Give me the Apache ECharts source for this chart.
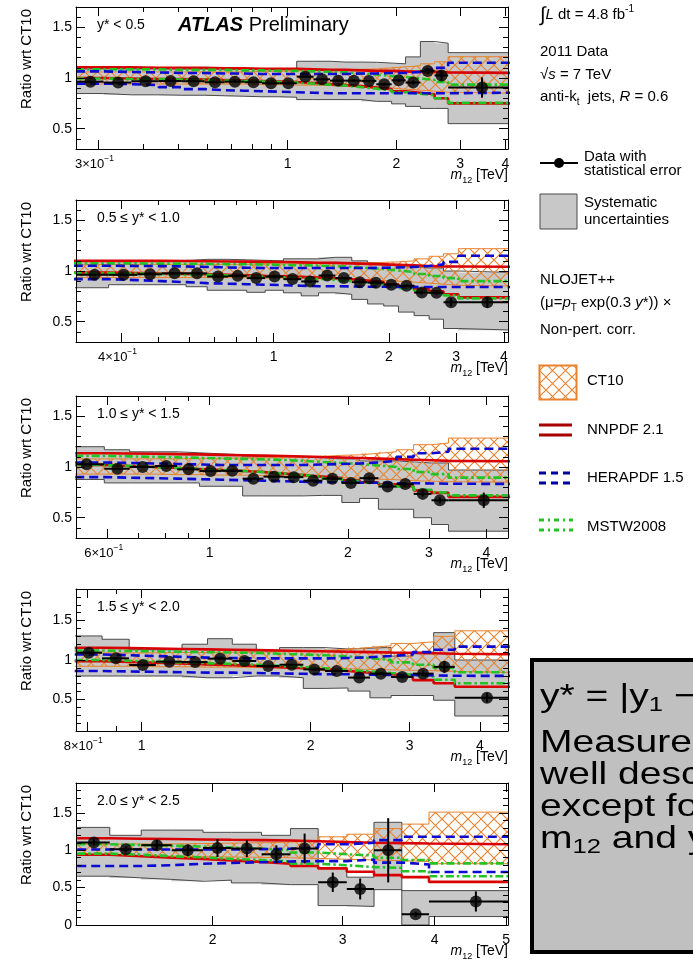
<!DOCTYPE html>
<html><head><meta charset="utf-8">
<script src="https://cdn.jsdelivr.net/npm/echarts@6.0.0/dist/echarts.min.js"></script>
<style>html,body{margin:0;padding:0;background:#fff}#c{width:693px;height:961px}</style>
</head><body><div id="c"></div>
<script>
// ---------------- DATA ----------------
// Panel 1: y* < 0.5
const p1Edges=[0.26,0.31,0.37,0.44,0.51,0.59,0.67,0.76,0.85,0.95,1.06,1.18,1.31,1.45,1.60,1.76,1.94,2.12,2.33,2.55,2.78,4.27];
const p1X=[0.285,0.34,0.405,0.475,0.55,0.63,0.715,0.805,0.9,1.005,1.12,1.245,1.38,1.525,1.68,1.85,2.03,2.225,2.44,2.665,3.45];
const p1Y=[0.964,0.955,0.968,0.970,0.968,0.958,0.964,0.958,0.948,0.948,1.013,0.987,0.974,0.974,0.970,0.938,0.977,0.955,1.070,1.025,0.906];
const p1Err=[0.010,0.008,0.008,0.008,0.008,0.008,0.008,0.008,0.008,0.010,0.010,0.010,0.010,0.012,0.012,0.015,0.015,0.020,0.030,0.050,0.100];
const p1SysLo=[0.847,0.834,0.834,0.830,0.830,0.825,0.820,0.815,0.815,0.810,0.787,0.787,0.787,0.787,0.770,0.770,0.745,0.720,0.700,0.700,0.550];
const p1SysHi=[1.090,1.090,1.090,1.090,1.090,1.090,1.090,1.090,1.090,1.090,1.165,1.165,1.157,1.157,1.155,1.147,1.140,1.208,1.360,1.343,1.250];
const p1CtHi=[1.060,1.060,1.060,1.060,1.060,1.060,1.060,1.065,1.065,1.070,1.070,1.075,1.080,1.085,1.090,1.100,1.110,1.120,1.140,1.160,1.210];
const p1CtLo=[0.940,0.940,0.940,0.940,0.940,0.940,0.940,0.935,0.935,0.930,0.930,0.925,0.920,0.915,0.910,0.900,0.890,0.880,0.870,0.860,0.850];
const p1NnHi=[1.105,1.105,1.100,1.100,1.100,1.095,1.095,1.090,1.090,1.090,1.085,1.080,1.080,1.075,1.070,1.070,1.065,1.060,1.060,1.055,1.050];
const p1NnLo=[1.000,0.995,0.990,0.990,0.985,0.980,0.975,0.970,0.965,0.960,0.950,0.940,0.930,0.920,0.905,0.890,0.870,0.855,0.840,0.800,0.750];
const p1HeHi=[1.065,1.060,1.055,1.050,1.050,1.045,1.045,1.040,1.040,1.040,1.040,1.040,1.040,1.045,1.045,1.050,1.050,1.060,1.080,1.100,1.150];
const p1HeLo=[0.945,0.940,0.930,0.910,0.890,0.880,0.875,0.870,0.865,0.860,0.855,0.850,0.850,0.850,0.850,0.850,0.850,0.850,0.850,0.850,0.855];
const p1MsHi=[1.085,1.085,1.085,1.080,1.080,1.080,1.075,1.075,1.070,1.070,1.065,1.060,1.055,1.045,1.035,1.020,1.010,0.995,0.980,0.960,0.935];
const p1MsLo=[0.995,0.990,0.990,0.985,0.980,0.975,0.970,0.965,0.960,0.955,0.945,0.935,0.925,0.910,0.895,0.880,0.860,0.845,0.830,0.800,0.755];

// Panel 2: 0.5 <= y* < 1.0
const p2Edges=[0.30,0.37,0.44,0.51,0.59,0.67,0.76,0.85,0.95,1.06,1.18,1.31,1.45,1.60,1.76,1.94,2.12,2.33,2.55,2.78,3.04,4.27];
const p2X=[0.34,0.405,0.475,0.55,0.63,0.715,0.805,0.9,1.005,1.12,1.245,1.38,1.525,1.68,1.85,2.03,2.225,2.44,2.665,2.91,3.62];
const p2Y=[0.962,0.962,0.968,0.977,0.977,0.945,0.952,0.930,0.945,0.920,0.897,0.955,0.930,0.890,0.885,0.865,0.855,0.787,0.785,0.692,0.692];
const p2Err=[0.008,0.007,0.007,0.007,0.007,0.007,0.007,0.007,0.008,0.008,0.009,0.010,0.010,0.012,0.012,0.014,0.015,0.018,0.022,0.040,0.055];
const p2SysLo=[0.835,0.865,0.865,0.865,0.845,0.810,0.810,0.790,0.810,0.785,0.755,0.785,0.770,0.720,0.675,0.655,0.595,0.560,0.525,0.433,0.417];
const p2SysHi=[1.100,1.100,1.100,1.100,1.115,1.115,1.110,1.105,1.100,1.120,1.120,1.135,1.135,1.100,1.080,1.060,1.040,1.030,1.030,1.000,0.985];
const p2CtHi=[1.065,1.065,1.065,1.065,1.065,1.065,1.065,1.070,1.070,1.070,1.075,1.075,1.080,1.080,1.085,1.090,1.100,1.120,1.145,1.170,1.220];
const p2CtLo=[0.935,0.935,0.935,0.935,0.935,0.935,0.935,0.930,0.930,0.930,0.925,0.920,0.915,0.910,0.905,0.900,0.890,0.880,0.870,0.860,0.850];
const p2NnHi=[1.100,1.100,1.100,1.098,1.096,1.094,1.092,1.090,1.088,1.085,1.082,1.080,1.075,1.070,1.065,1.060,1.055,1.050,1.045,1.045,1.042];
const p2NnLo=[0.985,0.980,0.975,0.972,0.968,0.963,0.958,0.952,0.948,0.942,0.935,0.928,0.918,0.905,0.890,0.870,0.850,0.820,0.800,0.770,0.740];
const p2HeHi=[1.052,1.050,1.048,1.045,1.040,1.035,1.032,1.030,1.030,1.030,1.030,1.030,1.030,1.030,1.032,1.035,1.040,1.050,1.065,1.090,1.150];
const p2HeLo=[0.920,0.910,0.900,0.890,0.880,0.875,0.870,0.865,0.860,0.855,0.850,0.850,0.848,0.845,0.845,0.843,0.843,0.842,0.842,0.842,0.842];
const p2MsHi=[1.075,1.075,1.073,1.072,1.070,1.068,1.066,1.064,1.060,1.057,1.053,1.048,1.040,1.030,1.020,1.005,0.990,0.970,0.950,0.930,0.900];
const p2MsLo=[0.980,0.975,0.970,0.966,0.962,0.956,0.950,0.944,0.938,0.930,0.922,0.912,0.900,0.886,0.870,0.850,0.830,0.805,0.785,0.760,0.730];

// Panel 3: 1.0 <= y* < 1.5
const p3Edges=[0.51,0.59,0.67,0.76,0.85,0.95,1.06,1.18,1.31,1.45,1.60,1.76,1.94,2.12,2.33,2.55,2.78,3.04,3.31,4.64];
const p3X=[0.54,0.63,0.715,0.805,0.9,1.005,1.12,1.245,1.38,1.525,1.68,1.85,2.03,2.225,2.44,2.665,2.91,3.17,3.95];
const p3Y=[1.027,0.983,1.000,1.010,0.977,0.960,0.962,0.885,0.905,0.900,0.865,0.885,0.843,0.890,0.807,0.832,0.735,0.672,0.672];
const p3Err=[0.010,0.008,0.008,0.008,0.008,0.008,0.008,0.008,0.009,0.010,0.010,0.012,0.013,0.015,0.017,0.020,0.025,0.030,0.075];
const p3SysLo=[0.877,0.843,0.843,0.843,0.843,0.810,0.810,0.715,0.715,0.715,0.720,0.720,0.650,0.690,0.583,0.583,0.500,0.433,0.367];
const p3SysHi=[1.200,1.170,1.150,1.150,1.140,1.130,1.120,1.100,1.100,1.100,1.090,1.080,1.080,1.060,1.060,1.050,1.040,1.040,0.970];
const p3CtHi=[1.080,1.080,1.080,1.080,1.085,1.085,1.090,1.090,1.095,1.100,1.105,1.115,1.120,1.135,1.150,1.170,1.220,1.235,1.285];
const p3CtLo=[0.930,0.930,0.930,0.925,0.925,0.920,0.920,0.915,0.910,0.905,0.900,0.895,0.890,0.880,0.875,0.865,0.860,0.855,0.850];
const p3NnHi=[1.135,1.133,1.130,1.127,1.124,1.120,1.116,1.112,1.108,1.103,1.098,1.093,1.088,1.083,1.078,1.072,1.066,1.060,1.057];
const p3NnLo=[1.020,1.010,1.000,0.990,0.980,0.970,0.960,0.950,0.935,0.920,0.905,0.890,0.870,0.850,0.830,0.810,0.770,0.745,0.705];
const p3HeHi=[1.045,1.040,1.035,1.030,1.025,1.020,1.020,1.020,1.020,1.020,1.025,1.030,1.035,1.045,1.060,1.100,1.135,1.150,1.180];
const p3HeLo=[0.900,0.895,0.890,0.885,0.880,0.875,0.870,0.865,0.860,0.855,0.850,0.850,0.845,0.845,0.840,0.840,0.838,0.835,0.833];
const p3MsHi=[1.110,1.105,1.100,1.095,1.090,1.085,1.080,1.075,1.070,1.060,1.050,1.040,1.030,1.015,1.000,0.980,0.950,0.930,0.895];
const p3MsLo=[1.020,1.010,1.000,0.990,0.980,0.970,0.960,0.950,0.935,0.920,0.905,0.885,0.865,0.845,0.825,0.805,0.775,0.750,0.720];

// Panel 4: 1.5 <= y* < 2.0
const p4Edges=[0.76,0.85,0.95,1.06,1.18,1.31,1.45,1.60,1.76,1.94,2.12,2.33,2.55,2.78,3.04,3.31,3.61,4.64];
const p4X=[0.805,0.9,1.005,1.12,1.245,1.38,1.525,1.68,1.85,2.03,2.225,2.44,2.665,2.91,3.17,3.46,4.12];
const p4Y=[1.093,1.021,0.936,0.979,0.975,1.017,0.987,0.924,0.940,0.881,0.860,0.777,0.827,0.785,0.827,0.913,0.522];
const p4Err=[0.015,0.010,0.008,0.008,0.008,0.008,0.009,0.010,0.011,0.012,0.014,0.016,0.020,0.022,0.030,0.075,0.060];
const p4SysLo=[0.797,0.797,0.797,0.797,0.775,0.775,0.797,0.797,0.775,0.640,0.645,0.606,0.521,0.550,0.550,0.490,0.290];
const p4SysHi=[1.305,1.263,1.130,1.130,1.200,1.270,1.200,1.120,1.157,1.157,1.140,1.150,1.160,1.050,1.100,1.347,1.000];
const p4CtHi=[1.090,1.090,1.090,1.095,1.095,1.100,1.100,1.105,1.110,1.120,1.135,1.160,1.180,1.210,1.230,1.300,1.370];
const p4CtLo=[0.920,0.920,0.915,0.915,0.910,0.910,0.905,0.900,0.900,0.895,0.890,0.880,0.875,0.870,0.865,0.855,0.840];
const p4NnHi=[1.155,1.150,1.145,1.140,1.135,1.130,1.125,1.120,1.115,1.110,1.105,1.100,1.095,1.090,1.085,1.080,1.072];
const p4NnLo=[0.985,0.975,0.965,0.955,0.945,0.935,0.925,0.910,0.895,0.880,0.860,0.840,0.820,0.800,0.745,0.705,0.660];
const p4HeHi=[1.070,1.060,1.050,1.040,1.030,1.025,1.020,1.020,1.020,1.020,1.025,1.035,1.050,1.070,1.100,1.130,1.170];
const p4HeLo=[0.860,0.855,0.850,0.845,0.840,0.840,0.835,0.830,0.825,0.820,0.820,0.815,0.810,0.810,0.805,0.800,0.798];
const p4MsHi=[1.120,1.115,1.110,1.105,1.100,1.095,1.090,1.080,1.070,1.060,1.045,1.025,1.000,0.970,0.940,0.900,0.845];
const p4MsLo=[1.000,0.990,0.980,0.970,0.960,0.950,0.940,0.925,0.910,0.895,0.875,0.855,0.835,0.815,0.790,0.750,0.705];

// Panel 5: 2.0 <= y* < 2.5
const p5Edges=[1.31,1.45,1.60,1.76,1.94,2.12,2.33,2.55,2.78,3.04,3.31,3.61,3.93,5.04];
const p5X=[1.38,1.525,1.68,1.85,2.03,2.225,2.44,2.665,2.91,3.17,3.46,3.77,4.55];
const p5Y=[1.104,1.014,1.068,1.000,1.030,1.023,0.946,1.023,0.572,0.482,1.000,0.144,0.315];
const p5Err=[0.040,0.035,0.070,0.075,0.120,0.115,0.120,0.200,0.130,0.140,0.430,0.030,0.135];
const p5SysLo=[0.653,0.630,0.610,0.585,0.600,0.563,0.540,0.540,0.260,0.248,0.473,0.000,0.113];
const p5SysHi=[1.306,1.200,1.270,1.270,1.240,1.240,1.200,1.290,0.770,0.640,1.374,0.460,0.460];
const p5CtHi=[1.080,1.085,1.085,1.090,1.095,1.100,1.110,1.125,1.180,1.215,1.290,1.350,1.510];
const p5CtLo=[0.930,0.925,0.920,0.915,0.910,0.905,0.900,0.890,0.880,0.870,0.860,0.850,0.820];
const p5NnHi=[1.160,1.155,1.150,1.145,1.140,1.135,1.130,1.120,1.110,1.100,1.095,1.090,1.080];
const p5NnLo=[0.940,0.920,0.900,0.885,0.865,0.845,0.820,0.790,0.757,0.712,0.667,0.640,0.577];
const p5HeHi=[1.010,1.010,1.010,1.010,1.010,1.015,1.020,1.035,1.080,1.100,1.135,1.180,1.180];
const p5HeLo=[0.790,0.790,0.800,0.820,0.830,0.840,0.850,0.855,0.855,0.875,0.835,0.810,0.710];
const p5MsHi=[1.080,1.070,1.060,1.050,1.035,1.020,1.000,0.970,0.946,0.930,0.900,0.870,0.825];
const p5MsLo=[0.955,0.940,0.920,0.905,0.885,0.870,0.850,0.820,0.800,0.775,0.765,0.720,0.653];

// tick labels
const p1XTicks=[0.3,1,2,3,4], p1XTickLabels=['3×10^-1','1','2','3','4'], p1XMinor=[0.4,0.5,0.6,0.7,0.8,0.9];
const p2XTicks=[0.4,1,2,3,4], p2XTickLabels=['4×10^-1','1','2','3','4'], p2XMinor=[0.5,0.6,0.7,0.8,0.9];
const p3XTicks=[0.6,1,2,3,4], p3XTickLabels=['6×10^-1','1','2','3','4'], p3XMinor=[0.7,0.8,0.9];
const p4XTicks=[0.8,1,2,3,4], p4XTickLabels=['8×10^-1','1','2','3','4'], p4XMinor=[0.9];
const p5XTicks=[2,3,4,5], p5XTickLabels=['2','3','4','5'], p5XMinor=[];
const yTicksA=[0.5,1,1.5], yTicksB=[0,0.5,1,1.5];
const panelLabels=['y* < 0.5','0.5 ≤ y* < 1.0','1.0 ≤ y* < 1.5','1.5 ≤ y* < 2.0','2.0 ≤ y* < 2.5'];

// --------------- BUILD ---------------
const FONT='"Liberation Sans", Arial, Helvetica, sans-serif';
const panels=[
 {edges:p1Edges,x:p1X,y:p1Y,err:p1Err,sysLo:p1SysLo,sysHi:p1SysHi,ctLo:p1CtLo,ctHi:p1CtHi,nnLo:p1NnLo,nnHi:p1NnHi,heLo:p1HeLo,heHi:p1HeHi,msLo:p1MsLo,msHi:p1MsHi,xt:p1XTicks,xl:p1XTickLabels,xm:p1XMinor,yt:yTicksA},
 {edges:p2Edges,x:p2X,y:p2Y,err:p2Err,sysLo:p2SysLo,sysHi:p2SysHi,ctLo:p2CtLo,ctHi:p2CtHi,nnLo:p2NnLo,nnHi:p2NnHi,heLo:p2HeLo,heHi:p2HeHi,msLo:p2MsLo,msHi:p2MsHi,xt:p2XTicks,xl:p2XTickLabels,xm:p2XMinor,yt:yTicksA},
 {edges:p3Edges,x:p3X,y:p3Y,err:p3Err,sysLo:p3SysLo,sysHi:p3SysHi,ctLo:p3CtLo,ctHi:p3CtHi,nnLo:p3NnLo,nnHi:p3NnHi,heLo:p3HeLo,heHi:p3HeHi,msLo:p3MsLo,msHi:p3MsHi,xt:p3XTicks,xl:p3XTickLabels,xm:p3XMinor,yt:yTicksA},
 {edges:p4Edges,x:p4X,y:p4Y,err:p4Err,sysLo:p4SysLo,sysHi:p4SysHi,ctLo:p4CtLo,ctHi:p4CtHi,nnLo:p4NnLo,nnHi:p4NnHi,heLo:p4HeLo,heHi:p4HeHi,msLo:p4MsLo,msHi:p4MsHi,xt:p4XTicks,xl:p4XTickLabels,xm:p4XMinor,yt:yTicksA},
 {edges:p5Edges,x:p5X,y:p5Y,err:p5Err,sysLo:p5SysLo,sysHi:p5SysHi,ctLo:p5CtLo,ctHi:p5CtHi,nnLo:p5NnLo,nnHi:p5NnHi,heLo:p5HeLo,heHi:p5HeHi,msLo:p5MsLo,msHi:p5MsHi,xt:p5XTicks,xl:p5XTickLabels,xm:p5XMinor,yt:yTicksB}
];
const GL=76, GW=432, GH=142;
const layout=[
 {top:7,  xmin:0.26, xmax:4.07, ymin:0.3, ymax:1.7},
 {top:200,xmin:0.304,xmax:4.10, ymin:0.3, ymax:1.7},
 {top:396,xmin:0.512,xmax:4.46, ymin:0.3, ymax:1.7},
 {top:589,xmin:0.764,xmax:4.49, ymin:0.1, ymax:1.9},
 {top:783,xmin:1.305,xmax:5.03, ymin:0.0, ymax:1.9}
];
const ORANGE='#e8822e', RED='#d80000', BLUE='#0a0ad2', GREEN='#22c322', GRAY='#c8c8c8', GRAYLINE='#4a4a4a';

function makeHatch(color,size,lw){
  const c=document.createElement('canvas'); c.width=size; c.height=size;
  const g=c.getContext('2d'); g.strokeStyle=color; g.lineWidth=lw;
  g.beginPath(); g.moveTo(-2,-2); g.lineTo(size+2,size+2); g.moveTo(size+2,-2); g.lineTo(-2,size+2); g.stroke();
  return c;
}
const hatch=makeHatch(ORANGE,13,1.1);
const hatchFill={image:hatch,repetition:'repeat'};

function rich(size){
  const lh=size+6, sm=Math.round(size*0.65);
  return {
    n:{fontSize:size,fontFamily:FONT,color:'#000',lineHeight:lh},
    i:{fontSize:size,fontFamily:FONT,color:'#000',fontStyle:'italic',lineHeight:lh},
    bi:{fontSize:size,fontFamily:FONT,color:'#000',fontStyle:'italic',fontWeight:'bold',lineHeight:lh},
    s:{fontSize:sm,fontFamily:FONT,color:'#000',verticalAlign:'top',lineHeight:sm},
    u:{fontSize:sm,fontFamily:FONT,color:'#000',verticalAlign:'bottom',lineHeight:sm},
    t:{fontSize:13,fontFamily:FONT,color:'#000',lineHeight:lh},
    ts:{fontSize:8.5,fontFamily:FONT,color:'#000',verticalAlign:'top',lineHeight:9,padding:[0,8,0,0]},
    big:{fontSize:Math.round(size*1.35),fontFamily:FONT,color:'#000',lineHeight:lh}
  };
}
function fmtX(s){ const k=s.indexOf('^'); return k<0?'{n|'+s+'}':'{t|'+s.slice(0,k)+'}{ts|'+s.slice(k+1).replace('-','−')+'}'; }

const stepPts=(edges,vals)=>{const d=vals.map((v,i)=>[edges[i],v]); d.push([edges[edges.length-1],vals[vals.length-1]]); return d;};

const grids=[],xAxes=[],yAxes=[],series=[],graphics=[];
panels.forEach((P,p)=>{
  const L=layout[p], xi=p*5, yi=p*4;
  grids.push({left:GL,top:L.top,width:GW,height:GH,containLabel:false,outerBoundsMode:'none',show:false});
  const lmin=Math.log10(L.xmin), lmax=Math.log10(L.xmax);
  const lab=P.xt.map(v=>Math.log10(v)), mnr=P.xm.map(v=>Math.log10(v));
  const labelFor=v=>{let b=0;for(let k=1;k<lab.length;k++) if(Math.abs(lab[k]-v)<Math.abs(lab[b]-v)) b=k; return P.xl[b];};
  xAxes.push({type:'log',logBase:10,gridIndex:p,min:L.xmin,max:L.xmax,show:false});
  const tickX=(pos,vals,len,withLabels,withLine)=>({type:'value',gridIndex:p,min:lmin,max:lmax,position:pos,z:50,silent:true,
     axisLine:{show:withLine,onZero:false,lineStyle:{color:'#000',width:1}},
     axisTick:{show:vals.length>0,inside:true,length:len,customValues:vals.length?vals:undefined,lineStyle:{color:'#000',width:1}},
     axisLabel:withLabels?{show:true,customValues:vals,margin:5,formatter:v=>fmtX(labelFor(v)),rich:rich(14)}:{show:false},
     splitLine:{show:false},minorTick:{show:false},minorSplitLine:{show:false}});
  xAxes.push(tickX('bottom',lab,9,true,true), tickX('bottom',mnr,5,false,false), tickX('top',lab,9,false,true), tickX('top',mnr,5,false,false));
  const yMaj=P.yt.filter(v=>v>=L.ymin-1e-9&&v<=L.ymax+1e-9), yMin=[];
  for(let k=Math.round(L.ymin*10);k<=Math.round(L.ymax*10);k++){const t=k/10; if(!yMaj.some(m=>Math.abs(m-t)<1e-9)) yMin.push(t);}
  const tickY=(pos,vals,len,withLabels,withLine)=>({type:'value',gridIndex:p,min:L.ymin,max:L.ymax,position:pos,z:50,silent:true,
     axisLine:{show:withLine,onZero:false,lineStyle:{color:'#000',width:1}},
     axisTick:{show:true,inside:true,length:len,customValues:vals,lineStyle:{color:'#000',width:1}},
     axisLabel:withLabels?{show:true,customValues:vals,margin:4,color:'#000',fontSize:14,fontFamily:FONT,formatter:v=>(Math.abs(v-Math.round(v))<1e-9?String(Math.round(v)):String(v))}:{show:false},
     splitLine:{show:false},minorTick:{show:false}});
  yAxes.push(tickY('left',yMaj,9,true,true), tickY('left',yMin,5,false,false), tickY('right',yMaj,9,false,true), tickY('right',yMin,5,false,false));

  const base={xAxisIndex:xi,yAxisIndex:yi,silent:true,animation:false};
  const bandFill=(lo,hi,fill,z,pad)=>Object.assign({type:'custom',clip:true,z,
     data:lo.map((v,i)=>[P.edges[i],P.edges[i+1],v,hi[i]]),
     encode:{x:[0,1],y:[2,3]},
     renderItem:(params,api)=>{
       const a=api.coord([api.value(0),api.value(3)]), b=api.coord([api.value(1),api.value(2)]);
       return {type:'rect',shape:{x:a[0]-pad,y:a[1],width:b[0]-a[0]+2*pad,height:b[1]-a[1]},style:{fill:fill}};
     }},base);
  const stepLine=(v,color,width,type,z)=>Object.assign({type:'line',data:stepPts(P.edges,v),step:'end',symbol:'none',lineStyle:{color,width,type},z},base);
  series.push(bandFill(P.sysLo,P.sysHi,GRAY,1,0.4), stepLine(P.sysLo,GRAYLINE,1,'solid',1), stepLine(P.sysHi,GRAYLINE,1,'solid',1));
  series.push(bandFill(P.ctLo,P.ctHi,hatchFill,2,0), stepLine(P.ctLo,ORANGE,1,'solid',2), stepLine(P.ctHi,ORANGE,1,'solid',2));
  series.push(stepLine(P.nnLo,RED,2.6,'solid',3), stepLine(P.nnHi,RED,2.6,'solid',3));
  series.push(stepLine(P.msLo,GREEN,2.6,[8,3,2.5,3],4), stepLine(P.msHi,GREEN,2.6,[8,3,2.5,3],4));
  series.push(stepLine(P.heLo,BLUE,2.6,[9,5],4), stepLine(P.heHi,BLUE,2.6,[9,5],4));
  series.push(Object.assign({type:'custom',clip:true,z:10,
     data:P.x.map((x,i)=>[x,P.y[i],P.err[i],P.edges[i],P.edges[i+1]]),
     encode:{x:0,y:1},
     renderItem:(params,api)=>{
       const x=api.value(0),y=api.value(1),e=api.value(2),xl=api.value(3),xh=api.value(4);
       const a=api.coord([xl,y]),b=api.coord([xh,y]),t=api.coord([x,y+e]),u=api.coord([x,y-e]);
       return {type:'group',children:[
         {type:'line',shape:{x1:a[0],y1:a[1],x2:b[0],y2:b[1]},style:{stroke:'#000',lineWidth:2}},
         {type:'line',shape:{x1:t[0],y1:t[1],x2:u[0],y2:u[1]},style:{stroke:'#000',lineWidth:2}}
       ]};
     }},base));
  series.push(Object.assign({type:'scatter',data:P.x.map((x,i)=>[x,P.y[i]]),symbol:'circle',symbolSize:12,itemStyle:{color:'#000'},z:11},base));

  graphics.push({type:'text',x:97,y:L.top+18,z:100,style:{text:'{n|'+panelLabels[p]+'}',rich:rich(14),verticalAlign:'middle'}});
  graphics.push({type:'text',x:27,y:L.top+2,rotation:Math.PI/2,z:100,style:{text:'Ratio wrt CT10',font:'15px '+FONT,fill:'#000',align:'right',verticalAlign:'middle'}});
  graphics.push({type:'text',x:GL+GW,y:L.top+GH+26,z:100,style:{text:'{i|m}{u|12}{n| [TeV]}',rich:rich(14),align:'right',verticalAlign:'middle'}});
});

graphics.push({type:'text',x:178,y:25,z:100,style:{text:'{bi|ATLAS}{n| Preliminary}',rich:rich(20),verticalAlign:'middle'}});

const LG=[
 [540,15,'{big|∫}{i|L}{n| dt = 4.8 fb}{s|-1}'],
 [540,52,'{n|2011 Data}'],
 [540,75,'{n|√}{i|s}{n| = 7 TeV}'],
 [540,97,'{n|anti-k}{u|t}{n|  jets, }{i|R}{n| = 0.6}'],
 [584,157,'{n|Data with}'],
 [584,171,'{n|statistical error}'],
 [584,203,'{n|Systematic}'],
 [584,220,'{n|uncertainties}'],
 [540,280,'{n|NLOJET++}'],
 [540,303,'{n|(μ=}{i|p}{u|T}{n| exp(0.3 }{i|y}{n|*)) ×}'],
 [540,330,'{n|Non-pert. corr.}'],
 [587,381,'{n|CT10}'],
 [587,430,'{n|NNPDF 2.1}'],
 [587,478,'{n|HERAPDF 1.5}'],
 [587,527,'{n|MSTW2008}']
];
LG.forEach(([x,y,t])=>graphics.push({type:'text',x,y,z:100,style:{text:t,rich:rich(15),verticalAlign:'middle'}}));
graphics.push({type:'line',z:100,shape:{x1:540,y1:163,x2:578,y2:163},style:{stroke:'#000',lineWidth:2}});
graphics.push({type:'circle',z:101,shape:{cx:559,cy:163,r:5},style:{fill:'#000'}});
graphics.push({type:'rect',z:100,shape:{x:540,y:194,width:37,height:35},style:{fill:GRAY,stroke:GRAYLINE,lineWidth:1}});
graphics.push({type:'rect',z:100,shape:{x:539.5,y:365.5,width:37,height:34},style:{fill:hatchFill,stroke:ORANGE,lineWidth:2}});
[425,435].forEach(y=>graphics.push({type:'line',z:100,shape:{x1:539,y1:y,x2:572,y2:y},style:{stroke:'#a80000',lineWidth:3}}));
[473,483].forEach(y=>graphics.push({type:'line',z:100,shape:{x1:539,y1:y,x2:573,y2:y},style:{stroke:'#0000a0',lineWidth:3,lineDash:[7,5]}}));
[520,530].forEach(y=>graphics.push({type:'line',z:100,shape:{x1:539,y1:y,x2:573,y2:y},style:{stroke:GREEN,lineWidth:3,lineDash:[5,4,2,4]}}));

graphics.push({type:'rect',z:100,shape:{x:532,y:660,width:220,height:292},style:{fill:'#c0c0c0',stroke:'#000',lineWidth:4}});
const BOX=[
 [697,'{n|y* = |y}{u|1}{n| − y}{u|2}{n||/2}'],
 [743,'{n|Measurements}'],
 [775,'{n|well described}'],
 [807,'{n|except for high}'],
 [839,'{n|m}{u|12}{n| and y*}']
];
BOX.forEach(([y,t])=>graphics.push({type:'text',x:540,y,scaleX:1.22,z:101,style:{text:t,rich:rich(32),verticalAlign:'middle'}}));

const chart=echarts.init(document.getElementById('c'),null,{renderer:'canvas'});
chart.setOption({animation:false,backgroundColor:'#fff',grid:grids,xAxis:xAxes,yAxis:yAxes,series,graphic:graphics,tooltip:{show:false}});
</script></body></html>
